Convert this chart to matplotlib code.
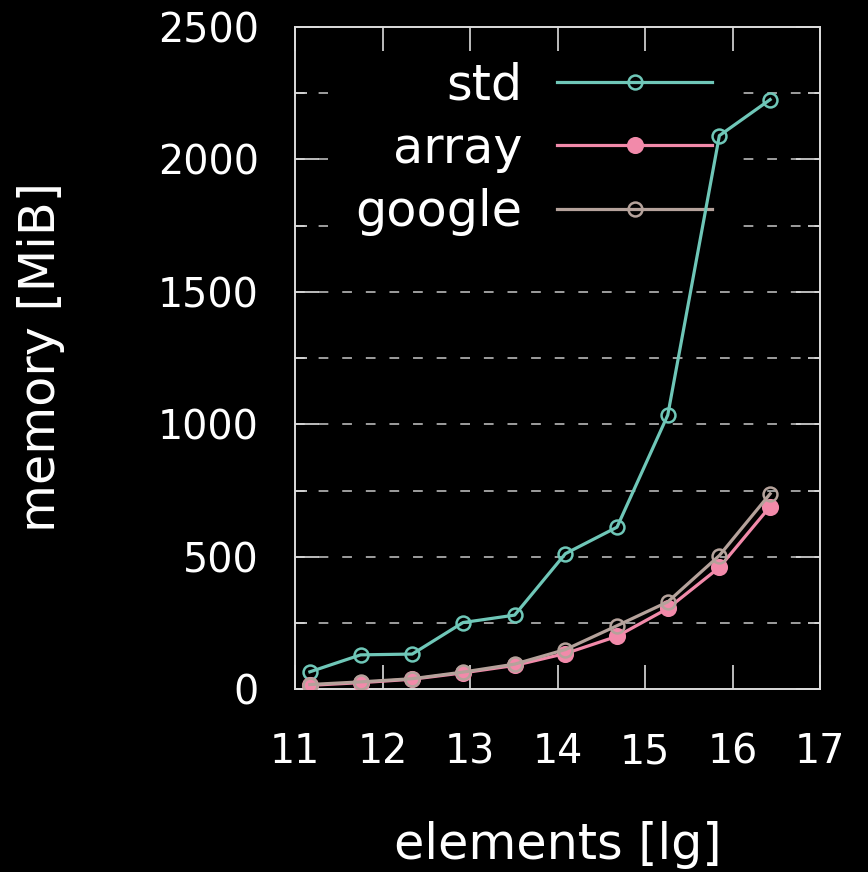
import matplotlib
matplotlib.use("Agg")
import matplotlib.pyplot as plt
from matplotlib.ticker import MultipleLocator

# lg(elements) sample points
x_lg = [11.17, 11.75, 12.34, 12.92, 13.51, 14.09, 14.68, 15.26, 15.85, 16.43]

# memory in MiB
std_mem = [66, 130, 133, 252, 280, 512, 612, 1035, 2090, 2226]
array_mem = [15, 25, 38, 62, 90, 135, 200, 305, 460, 690]
google_mem = [18, 28, 40, 65, 95, 150, 240, 330, 505, 738]

series_names = ["std", "array", "google"]
series_colors = ["#6fc7b8", "#f28aaa", "#b5a29b"]

plt.rcParams["font.family"] = "DejaVu Sans"
plt.rcParams["text.color"] = "white"
plt.rcParams["axes.labelcolor"] = "white"
plt.rcParams["xtick.color"] = "white"
plt.rcParams["ytick.color"] = "white"
plt.rcParams["lines.scale_dashes"] = False

fig = plt.figure(figsize=(8.68, 8.72), dpi=100, facecolor="black")
ax = fig.add_axes([295 / 868, 1 - 689.3 / 872, 525 / 868, 662.3 / 872])
ax.set_facecolor("black")
ax.set_axisbelow(False)

ax.set_xlim(11, 17)
ax.set_ylim(0, 2500)
ax.xaxis.set_major_locator(MultipleLocator(1))
ax.yaxis.set_major_locator(MultipleLocator(500))
ax.yaxis.set_minor_locator(MultipleLocator(250))

for s in ax.spines.values():
    s.set_color("#dddddd")
    s.set_linewidth(1.4)

ax.tick_params(axis="both", which="both", direction="in", top=True, right=True,
               color="#dddddd", width=1.2)
ax.tick_params(axis="both", which="major", length=17)
ax.tick_params(axis="y", which="minor", length=8.5)
ax.tick_params(axis="x", which="major", labelsize=28.5, pad=31)
ax.tick_params(axis="y", which="major", labelsize=28.5, pad=26)

# dashed grid on every y tick (drawn under the key box)
grid_ys = sorted(set(ax.yaxis.get_majorticklocs()) | set(ax.yaxis.get_minorticklocs()))
for gy in grid_ys:
    if 0 < gy < 2500:
        ax.axhline(gy, color="#c8c8c8", lw=1.1, dashes=(7, 10), zorder=1)

ax.plot(x_lg, std_mem, color=series_colors[0], lw=2.3, marker="o", ms=10,
        mew=1.8, mfc="none", label=series_names[0], zorder=3)
ax.plot(x_lg, array_mem, color=series_colors[1], lw=2.3, marker="o", ms=10.5,
        mew=1.8, mfc=series_colors[1], label=series_names[1], zorder=3)
ax.plot(x_lg, google_mem, color=series_colors[2], lw=2.3, marker="o", ms=10,
        mew=1.8, mfc="none", label=series_names[2], zorder=3)

ax.set_xlabel("elements [lg]", fontsize=35.5)
ax.set_ylabel("memory [MiB]", fontsize=35.5)
ax.xaxis.set_label_coords(0.501, -0.199)
ax.yaxis.set_label_coords(-0.438, 0.502)

leg = ax.legend(loc="upper right", bbox_to_anchor=(0.846, 0.989), fontsize=35.5,
                markerfirst=False, alignment="right", handlelength=3.14,
                handletextpad=0.71, labelspacing=0.31, borderpad=0.55,
                borderaxespad=0, frameon=True, facecolor="black",
                edgecolor="none", framealpha=1, fancybox=False, numpoints=1)
leg.set_zorder(2.2)

fig.savefig("out.png", dpi=100, facecolor="black")
